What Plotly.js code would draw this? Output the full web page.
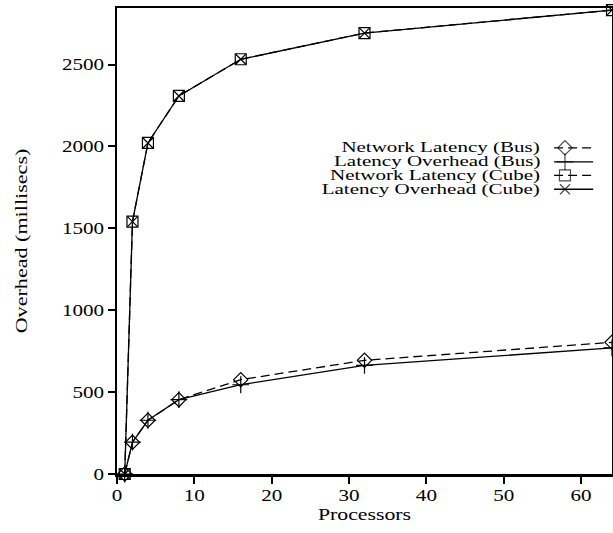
<!DOCTYPE html>
<html>
<head>
<meta charset="utf-8">
<script src="https://cdn.plot.ly/plotly-3.0.1.min.js"></script>
<style>
  html, body { margin: 0; padding: 0; background: #fff; }
  #chart { width: 613px; height: 533px; }
</style>
</head>
<body>
<div id="chart"></div>
<script>
// Processor counts on the x axis
const processors = [1, 2, 4, 8, 16, 32, 64];

// Overhead in milliseconds for each configuration
const netLatencyBus    = [0, 194, 328, 454, 576, 694, 804];
const latOverheadBus   = [0, 194, 328, 454, 545, 663, 770];
const netLatencyCube   = [0, 1541, 2021, 2308, 2532, 2692, 2832];
const latOverheadCube  = [0, 1541, 2021, 2308, 2532, 2692, 2832];

const seriesNames = [
  'Network Latency (Bus)',
  'Latency Overhead (Bus)',
  'Network Latency (Cube)',
  'Latency Overhead (Cube)'
];

const xTicks = [0, 10, 20, 30, 40, 50, 60];
const yTicks = [0, 500, 1000, 1500, 2000, 2500];

const FONT = 'Liberation Serif, Times New Roman, serif';

// style per series: symbol, size, dash
const styles = [
  { symbol: 'diamond-open',    size: 11, dash: '9px,5px' },
  { symbol: 'cross-thin-open', size: 12, dash: 'solid' },
  { symbol: 'square-open',     size: 11, dash: '9px,5px' },
  { symbol: 'x-thin-open',     size: 10, dash: 'solid' }
];
const seriesData = [netLatencyBus, latOverheadBus, netLatencyCube, latOverheadCube];

const traces = seriesData.map((ys, i) => ({
  type: 'scatter',
  mode: 'lines+markers',
  x: processors,
  y: ys,
  name: seriesNames[i],
  showlegend: false,
  cliponaxis: false,
  line: { color: '#000', width: 1.3, dash: styles[i].dash },
  marker: {
    symbol: styles[i].symbol,
    size: styles[i].size,
    color: '#000',
    line: { color: '#000', width: 1.2 }
  }
}));

// Key: text on the left, line sample with its marker on the right
const keyRowsY = [0.700, 0.670, 0.641, 0.611];
const keySampleX = [0.883, 0.905, 0.962];
const keyTextX = 0.858;

const keyTraces = styles.map((s, i) => ({
  type: 'scatter',
  mode: 'lines+markers',
  xaxis: 'x2',
  yaxis: 'y2',
  x: keySampleX,
  y: [keyRowsY[i], keyRowsY[i], keyRowsY[i]],
  showlegend: false,
  hoverinfo: 'skip',
  cliponaxis: false,
  line: { color: '#000', width: 1.3, dash: s.dash },
  marker: {
    symbol: s.symbol,
    size: [0, s.size, 0],
    color: '#000',
    line: { color: '#000', width: 1.2 }
  }
}));

const keyLabels = seriesNames.map((name, i) => ({
  xref: 'paper', yref: 'paper',
  x: keyTextX, y: keyRowsY[i],
  xanchor: 'right', yanchor: 'middle',
  text: name,
  showarrow: false,
  font: { family: FONT, size: 15, color: '#000' }
}));

const layout = {
  width: 613,
  height: 533,
  margin: { l: 117, r: 1, t: 8, b: 59 },
  paper_bgcolor: '#fff',
  plot_bgcolor: '#fff',
  font: { family: FONT, size: 17, color: '#000' },
  xaxis: {
    range: [0, 64],
    tickvals: xTicks,
    ticks: 'outside',
    ticklen: 7,
    tickwidth: 2,
    tickcolor: '#000',
    ticklabelstandoff: -3,
    showline: true,
    linewidth: 2.5,
    linecolor: '#000',
    mirror: true,
    showgrid: false,
    zeroline: false,
    tickfont: { family: FONT, size: 17 },
    title: { text: 'Processors', font: { family: FONT, size: 17 }, standoff: 0 }
  },
  yaxis: {
    range: [0, 2845],
    tickvals: yTicks,
    ticks: 'outside',
    ticklen: 7,
    tickwidth: 2,
    tickcolor: '#000',
    showline: true,
    linewidth: 2.5,
    linecolor: '#000',
    mirror: true,
    showgrid: false,
    zeroline: false,
    tickfont: { family: FONT, size: 17 },
    title: { text: 'Overhead (millisecs)', font: { family: FONT, size: 17 }, standoff: 38 }
  },
  xaxis2: { overlaying: 'x', range: [0, 1], visible: false, fixedrange: true },
  yaxis2: { overlaying: 'y', range: [0, 1], visible: false, fixedrange: true },
  annotations: keyLabels
};

// Widen the serif glyphs horizontally (the face is set wide in this figure)
function widen(el, factor) {
  const len = el.getComputedTextLength();
  if (!len) return;
  el.setAttribute('textLength', (len * factor).toFixed(2));
  el.setAttribute('lengthAdjust', 'spacingAndGlyphs');
}

Plotly.newPlot('chart', traces.concat(keyTraces), layout, { staticPlot: true }).then(gd => {
  gd.querySelectorAll('.xtick text, .ytick text').forEach(t => widen(t, 1.24));
  gd.querySelectorAll('.g-xtitle text').forEach(t => widen(t, 1.28));
  gd.querySelectorAll('.g-ytitle text').forEach(t => widen(t, 1.3));
  // key labels: keep their right edge fixed while widening
  gd.querySelectorAll('.annotation-text').forEach(t => {
    const len = t.getComputedTextLength();
    const x = parseFloat(t.getAttribute('x')) || 0;
    t.setAttribute('text-anchor', 'end');
    t.setAttribute('x', (x + len / 2).toFixed(2));
    widen(t, 1.4);
  });
});
</script>
</body>
</html>
